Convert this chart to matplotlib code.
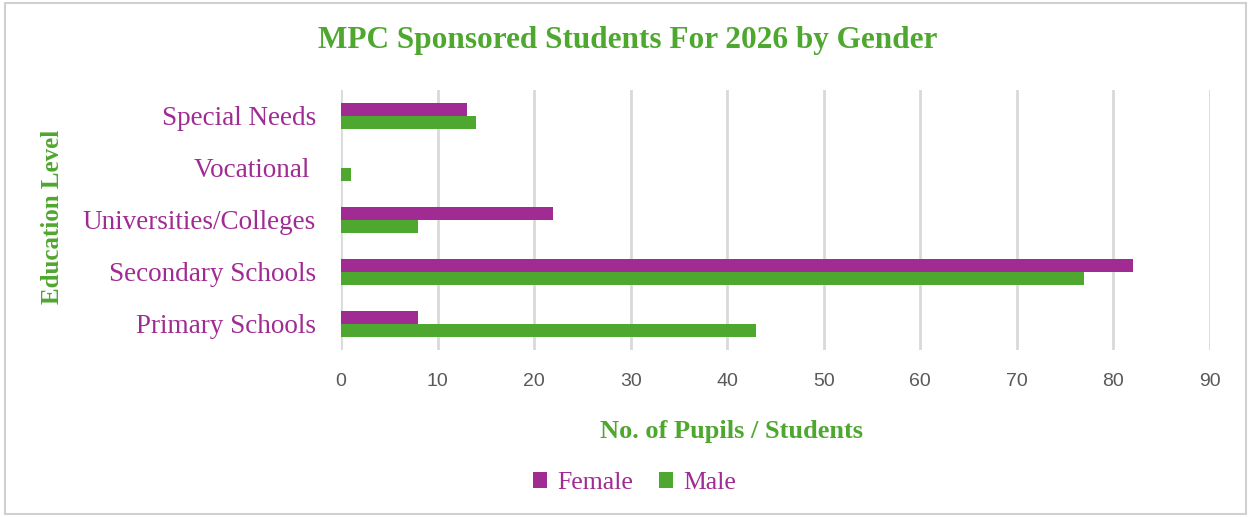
import matplotlib.pyplot as plt
import numpy as np
from matplotlib.patches import Rectangle

categories = ["Special Needs", "Vocational ", "Universities/Colleges",
              "Secondary Schools", "Primary Schools"]
female = [13, 0, 22, 82, 8]
male = [14, 1, 8, 77, 43]
xticks = list(range(0, 100, 10))

PURPLE = "#A02B93"
GREEN = "#4EA72E"
SERIF = ["Liberation Serif", "DejaVu Serif"]
SANS = ["Liberation Sans", "DejaVu Sans"]

fig = plt.figure(figsize=(12.51, 5.17), dpi=100)
fig.patches.append(Rectangle((0.004, 0.006), 0.992, 0.988, transform=fig.transFigure,
                             fill=False, edgecolor="#d0d0d0", linewidth=1.5))
ax = fig.add_axes([0.2726, 0.3235, 0.6946, 0.5025])

y = np.arange(len(categories))
h = 0.25
ax.barh(y - h / 2, female, height=h, color=PURPLE, label="Female", zorder=3)
ax.barh(y + h / 2, male, height=h, color=GREEN, label="Male", zorder=3)

ax.set_ylim(len(categories) - 0.5, -0.5)
ax.set_xlim(0, 90)
ax.set_xticks(xticks)
ax.set_xticklabels([str(t) for t in xticks], family=SANS, fontsize=14, color="#595959")
ax.set_yticks(y)
ax.set_yticklabels(categories, family=SERIF, fontsize=19.5, color=PURPLE)
ax.tick_params(axis="both", length=0)
ax.tick_params(axis="x", pad=17)
ax.tick_params(axis="y", pad=18)
ax.grid(axis="x", color="#d9d9d9", linewidth=2, zorder=0)
for s in ax.spines.values():
    s.set_visible(False)

fig.text(0.585, 0.166, "No. of Pupils / Students", family=SERIF, fontsize=19,
         fontweight="bold", color=GREEN, ha="center", va="center")
fig.text(0.042, 0.58, "Education Level", rotation=90, family=SERIF, fontsize=18,
         fontweight="bold", color=GREEN, ha="center", va="center")
fig.text(0.502, 0.922, "MPC Sponsored Students For 2026 by Gender", family=SERIF,
         fontsize=22.5, fontweight="bold", color=GREEN, ha="center", va="center")

leg = fig.legend(loc="center", bbox_to_anchor=(0.507, 0.066), ncol=2, frameon=False,
                 prop={"family": SERIF, "size": 18.5}, handlelength=0.55, handleheight=0.55,
                 columnspacing=1.0, handletextpad=0.4)
for t in leg.get_texts():
    t.set_color(PURPLE)

fig.savefig("out.png", dpi=100)
